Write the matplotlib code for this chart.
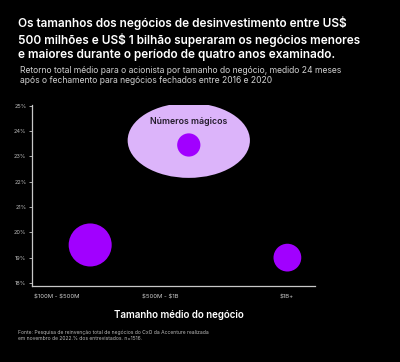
import matplotlib
matplotlib.use('Agg')
import matplotlib.pyplot as plt
from matplotlib.patches import Ellipse

plt.rcParams['font.family'] = ['Inter', 'DejaVu Sans']

# data
categories = [r'\$100M - \$500M', r'\$500M - \$1B', r'\$1B+']
retorno = [19.5, 23.45, 19.0]      # % retorno total medio
bubble_size = [960, 280, 400]      # tamanho relativo da bolha
y_ticks = [18, 19, 20, 21, 22, 23, 24, 25]

purple = '#a100ff'
lavender = '#dcb4fa'

fig = plt.figure(figsize=(4, 3.62), dpi=100, facecolor='black')
ax = fig.add_axes([0.08, 0.21, 0.7075, 0.50], facecolor='black')

x = list(range(len(categories)))

# "numeros magicos" highlight behind the middle bubble
ax.add_patch(Ellipse((x[1], 23.63), 1.24, 2.96, facecolor=lavender, edgecolor='none', zorder=1))
ax.text(x[1], 24.36, 'Números mágicos', ha='center', va='center', fontsize=6.3,
        color='#221a2a', fontweight='semibold', zorder=3)

ax.scatter(x, retorno, s=bubble_size, color=purple, edgecolor='none', zorder=2)

ax.set_xlim(-0.59, 2.28)
ax.set_ylim(17.88, 25.03)
ax.set_yticks(y_ticks)
ax.set_yticklabels([f'{v}%' for v in y_ticks])
ax.set_xticks([-0.34, 0.71, 1.99])
ax.set_xticklabels(categories)

for s in ['top', 'right']:
    ax.spines[s].set_visible(False)
for s in ['left', 'bottom']:
    ax.spines[s].set_color('#c8c8c8')
    ax.spines[s].set_linewidth(0.9)
ax.tick_params(axis='y', colors='#c8c8c8', labelcolor='#bbbbbb', labelsize=4, length=2, width=0.6, pad=2)
ax.tick_params(axis='x', length=0, labelcolor='#cccccc', labelsize=4.3, pad=6)

ax.set_xlabel('Tamanho médio do negócio', color='white', fontsize=7, fontweight='semibold')
ax.xaxis.set_label_coords(0.52, -0.13)

fig.text(0.045, 0.955, 'Os tamanhos dos negócios de desinvestimento entre US\\$\n'
         '500 milhões e US\\$ 1 bilhão superaram os negócios menores\n'
         'e maiores durante o período de quatro anos examinado.',
         color='white', fontsize=8.5, fontweight='semibold', va='top', ha='left', linespacing=1.25)
fig.text(0.05, 0.818, 'Retorno total médio para o acionista por tamanho do negócio, medido 24 meses\n'
         'após o fechamento para negócios fechados entre 2016 e 2020',
         color='#cfcfcf', fontsize=6.2, va='top', ha='left', linespacing=1.2)
fig.text(0.045, 0.088, 'Fonte: Pesquisa de reinvenção total de negócios do CxO da Accenture realizada\n'
         'em novembro de 2022.% dos entrevistados. n=1516.',
         color='#bbbbbb', fontsize=3.6, va='top', ha='left', linespacing=1.2)

fig.savefig('out.png', dpi=100, facecolor='black')
